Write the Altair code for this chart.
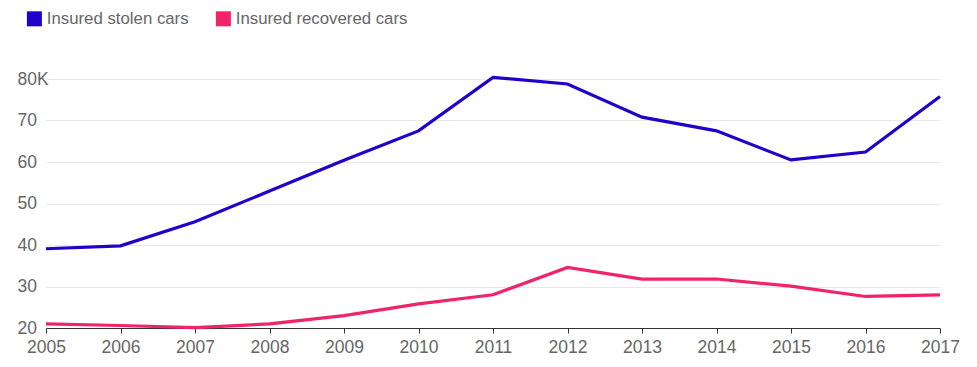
import altair as alt
import pandas as pd

years = [2005, 2006, 2007, 2008, 2009, 2010, 2011, 2012, 2013, 2014, 2015, 2016, 2017]
stolen = [39.1, 39.8, 45.6, 53.0, 60.4, 67.5, 80.4, 78.8, 70.8, 67.5, 60.5, 62.4, 75.8]
recovered = [21.0, 20.6, 20.1, 21.0, 23.0, 25.8, 28.0, 34.6, 31.8, 31.8, 30.1, 27.6, 28.0]
series = ["Insured stolen cars", "Insured recovered cars"]
colors = ["#2200cc", "#f0236b"]
y_ticks = [20, 30, 40, 50, 60, 70, 80]

rows = []
for name, vals in zip(series, [stolen, recovered]):
    for yr, v in zip(years, vals):
        rows.append({"year": yr, "value": v, "series": name})
df = pd.DataFrame(rows)

font = "Liberation Sans"

chart = alt.Chart(df).mark_line(strokeWidth=3.2, clip=False, strokeJoin="miter").encode(
    x=alt.X("year:Q",
            scale=alt.Scale(domain=[2005, 2017], nice=False, zero=False),
            axis=alt.Axis(values=years, format="d", title=None, grid=False,
                          domain=True, domainColor="#333333", domainWidth=1,
                          ticks=True, tickSize=5, tickColor="#333333",
                          labelPadding=5, labelFontSize=17.5, labelColor="#666666",
                          labelFont=font, labelFlush=False)),
    y=alt.Y("value:Q",
            scale=alt.Scale(domain=[20, 80], nice=False, zero=False),
            axis=alt.Axis(values=y_ticks, title=None, grid=True, gridColor="#e8e8e8",
                          domain=False, ticks=False, tickSize=0,
                          labelAlign="left", labelPadding=29,
                          labelExpr="datum.value == 80 ? '80K' : datum.value",
                          labelFontSize=17.5, labelColor="#666666", labelFont=font)),
    color=alt.Color("series:N",
                    scale=alt.Scale(domain=series, range=colors),
                    legend=alt.Legend(title=None, orient="none", legendX=-20, legendY=-69,
                                      direction="horizontal", symbolType="square",
                                      symbolSize=56.25, symbolStrokeWidth=7.5,
                                      labelLimit=400, symbolOpacity=1,
                                      labelFontSize=16.8,
                                      labelColor="#666666", labelFont=font,
                                      labelOffset=4, columnPadding=15, padding=0)),
).properties(
    width=894,
    height=249,
    autosize=alt.AutoSizeParams(type="none"),
    padding={"left": 38, "top": 71, "right": 25, "bottom": 30},
).configure_view(stroke=None)

chart.save("out.html", embed_options={"renderer": "svg", "actions": False})
